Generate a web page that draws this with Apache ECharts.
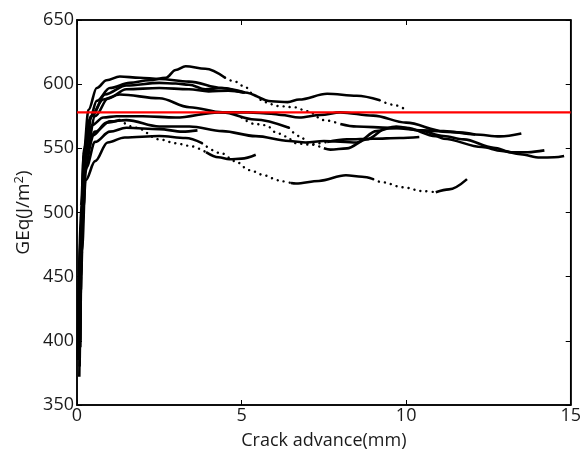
<!DOCTYPE html>
<html>
<head>
<meta charset="utf-8">
<script src="https://cdn.jsdelivr.net/npm/echarts@6/dist/echarts.min.js"></script>
<style>html,body{margin:0;padding:0;background:#fff}#c{width:584px;height:455px}</style>
</head>
<body>
<div id="c"></div>
<script>
// ---- data (x: crack advance mm, y: GEq J/m^2) ----
var xTicks = [0, 5, 10, 15];
var yTicks = [350, 400, 450, 500, 550, 600, 650];
var redLevel = 578;

var curveA = [[0.05,430],[0.12,505],[0.22,550],[0.38,572],[0.6,587],[1.0,597],[1.6,601],[2.2,603],[2.7,605],[3.0,611],[3.3,614],[3.9,612],[4.5,605]];
var curveA_sparse = [[4.5,605],[4.8,602],[5.1,598],[5.4,591],[5.7,586],[6.1,583],[6.6,582],[7.0,579],[7.5,572],[8.0,569]];
var curveA_tail = [[8.0,569],[8.5,567],[9.5,566],[10.5,564],[11.45,562.6],[12.1,560.8]];

var curveB = [[0.1,400],[0.14,490],[0.2,545],[0.35,580],[0.6,597],[0.9,603],[1.3,606],[1.9,605],[2.5,604],[3.4,602],[4.4,597],[5.1,593.5],[5.9,586.7],[6.4,586],[6.75,588],[7.6,592.5],[8.5,591],[9.2,587.5]];
var curveB_sparse = [[9.2,587.5],[9.6,584],[10,580]];

var curveC = [[0.02,385],[0.1,480],[0.22,540],[0.45,575],[0.85,592],[1.5,599],[2.5,601],[3.0,600.5],[3.4,599.6],[3.9,596],[4.4,597],[5.1,593.5]];

var curveD = [[0.08,380],[0.15,470],[0.28,545],[0.55,575],[0.95,589],[1.5,596],[2.5,597],[3.4,596],[4.0,594.4],[4.6,595],[5.1,593.5]];

var curveDn = [[0.04,405],[0.12,495],[0.22,545],[0.42,575],[0.8,588],[1.3,592],[2.5,589],[3.42,582],[4.42,578],[5.4,572.5],[6.44,566]];
var curveDn_sparse = [[6.44,566],[6.75,559.5],[7.1,553],[7.5,550]];
var curveDn_tail = [[7.5,550],[7.7,549],[8.2,550],[8.8,557],[9.4,565.5],[10,566],[10.9,559.5],[11.14,557.5],[12.3,551],[12.9,548],[13.47,545.4],[14.07,542.8],[14.5,543],[14.8,544]];

var curveE1 = [[0.12,440],[0.16,510],[0.25,550],[0.45,568],[0.8,574],[1.2,575],[2,575],[3,574],[4.3,578],[5.2,578],[5.9,577],[6.2,576],[6.75,574],[7.4,576],[8,578],[9,575.5],[10,570],[11.14,563.4],[12.1,560.8],[12.85,559.3],[13.5,561.6]];

var curveE2 = [[0.06,415],[0.14,500],[0.28,545],[0.55,563],[1.0,571],[1.5,572],[2.5,567],[3.42,567],[4.42,563.4],[5.43,559.5],[6.44,555.7],[6.95,554.6],[7.5,555.7],[8.5,554.6],[9.1,563.4],[9.7,567],[10.4,564],[11.14,559.6],[11.75,557],[12.66,550.5],[13.2,547],[13.7,547],[14.2,548.4]];

var curveS1 = [[0.1,395],[0.15,490],[0.28,535],[0.55,555],[1,563],[1.5,566],[2.5,565],[3.2,563],[3.66,564]];

var curveD1 = [[0.03,388],[0.12,470],[0.22,530],[0.48,560],[0.9,570],[1.3,572]];
var curveD1_sparse = [[1.3,572],[1.8,566],[2.5,557],[3.0,554],[3.4,552],[3.92,547]];
var curveD1_tail = [[3.92,547],[4.3,543],[4.63,541.5],[5.0,542],[5.43,545]];

var curveL1 = [[0.07,372],[0.12,450],[0.2,505],[0.26,525],[0.55,540],[0.93,554.6],[1.45,558.5],[2.5,559.6],[3.3,558],[3.8,554]];
var curveL1_sparse = [[3.8,554],[4.4,546],[4.8,540],[5.24,533],[5.7,529],[5.93,526.7],[6.2,524.4],[6.5,523]];
var curveL1_tail = [[6.5,523],[6.65,522.6],[7.35,524.6],[8.17,529],[8.66,527.8],[9.0,526]];
var curveL1_sparse2 = [[9.0,526],[9.27,523.6],[9.9,519.7],[10.5,516.7],[10.9,515.8]];
var curveL1_tail2 = [[10.9,515.8],[11.3,518],[11.85,526]];

var curveG_sparse = [[5.0,574],[5.4,569],[5.75,568],[6.05,562.4],[6.35,559.3],[6.65,554],[7.0,553],[7.6,555]];
var curveG_tail = [[7.6,555],[8.2,557],[9,557.5],[9.8,558],[10.4,558.8]];

// ---- build ----
var solidSets = [curveA, curveA_tail, curveB, curveC, curveD, curveDn, curveDn_tail, curveE1, curveE2, curveS1, curveD1, curveD1_tail, curveL1, curveL1_tail, curveL1_tail2, curveG_tail];
var sparseSets = [curveA_sparse, curveB_sparse, curveDn_sparse, curveD1_sparse, curveL1_sparse, curveL1_sparse2, curveG_sparse];

var series = [];
solidSets.forEach(function(d){
  series.push({type:'line', data:d, symbol:'none', smooth:0.35, smoothMonotone:'x', silent:true,
    lineStyle:{color:'#000', width:2.6}});
});
sparseSets.forEach(function(d){
  series.push({type:'line', data:d, symbol:'none', smooth:0.35, smoothMonotone:'x', silent:true,
    lineStyle:{color:'#000', width:2.4, type:[0.1,6], cap:'round'}});
});
series.push({type:'line', data:[[xTicks[0],redLevel],[xTicks[xTicks.length-1],redLevel]], symbol:'none', silent:true,
  lineStyle:{color:'#ff0000', width:2.2}, z:5});

var font = '"Open Sans", sans-serif';
var axisLine = {show:true, onZero:false, lineStyle:{color:'#000', width:1.5}};
var tick = {show:true, inside:true, length:5, lineStyle:{color:'#000', width:1}};
var chart = echarts.init(document.getElementById('c'), null, {renderer:'canvas'});
chart.setOption({
  backgroundColor:'#fff',
  animation:false,
  grid:{left:77, right:11, top:20, bottom:48, show:true, borderColor:'#000', borderWidth:1.5, backgroundColor:'transparent'},
  xAxis:[{
    type:'value', min:0, max:15, interval:5,
    axisLine:axisLine, axisTick:tick,
    splitLine:{show:false},
    axisLabel:{color:'#1a1a1a', fontSize:18, fontFamily:font, margin:2},
    name:'Crack advance(mm)', nameLocation:'middle', nameGap:27,
    nameTextStyle:{color:'#1a1a1a', fontSize:18, fontFamily:font}
  },{
    type:'value', position:'top', min:0, max:15, interval:5,
    axisLine:axisLine, axisTick:tick,
    axisLabel:{show:false}, splitLine:{show:false}
  }],
  yAxis:[{
    type:'value', min:350, max:650, interval:50,
    axisLine:axisLine, axisTick:tick,
    splitLine:{show:false},
    axisLabel:{color:'#1a1a1a', fontSize:18, fontFamily:font, margin:3},
    name:'GEq(J/m{sup|2})', nameLocation:'middle', nameGap:42, nameMoveOverlap:false,
    nameTextStyle:{color:'#1a1a1a', fontSize:19, fontFamily:font, lineHeight:22,
      rich:{sup:{fontSize:13, fontFamily:font, color:'#1a1a1a', verticalAlign:'top', lineHeight:22}}}
  },{
    type:'value', position:'right', min:350, max:650, interval:50,
    axisLine:axisLine, axisTick:tick,
    axisLabel:{show:false}, splitLine:{show:false}
  }],
  series:series
});
</script>
</body>
</html>
